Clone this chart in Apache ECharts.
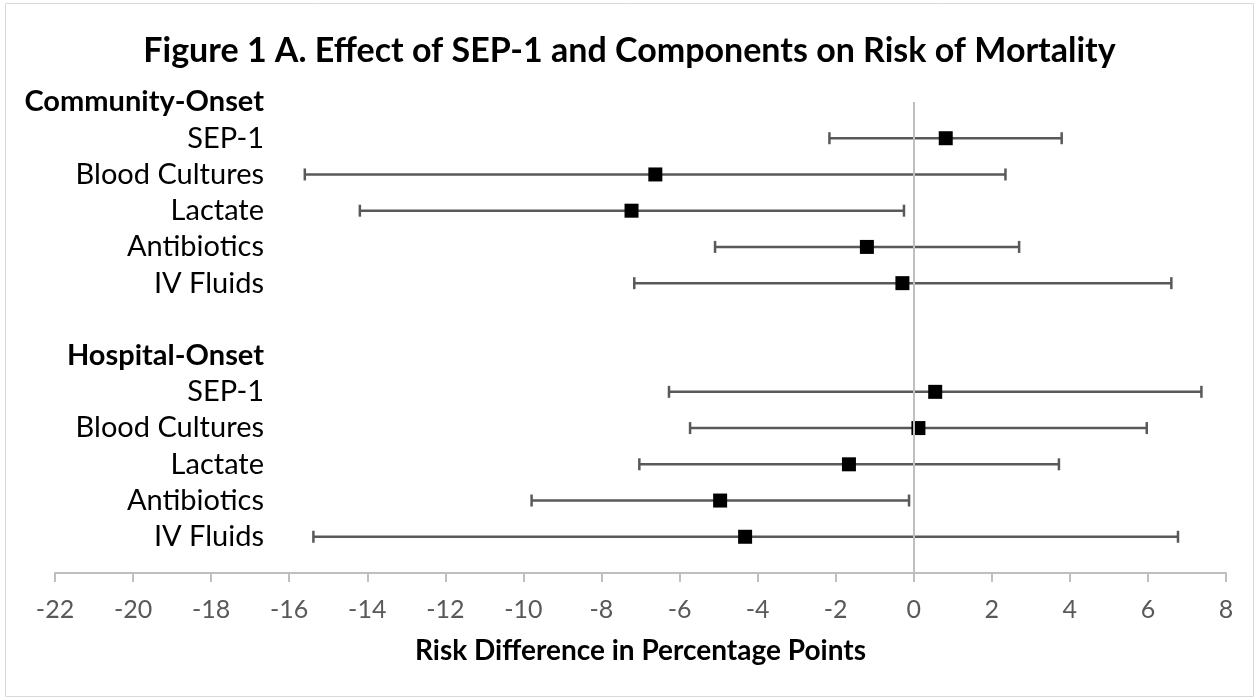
<!DOCTYPE html>
<html>
<head>
<meta charset="utf-8">
<script src="https://cdn.jsdelivr.net/npm/echarts@6/dist/echarts.min.js"></script>
<style>html,body{margin:0;padding:0;background:#fff;}#chart{width:1259px;height:700px;}</style>
</head>
<body>
<div id="chart"></div>
<script>
const rowLabels = ['Community-Onset','SEP-1','Blood Cultures','Lactate','Antibiotics','IV Fluids','','Hospital-Onset','SEP-1','Blood Cultures','Lactate','Antibiotics','IV Fluids'];
const headerRows = [0, 7];
const estimate = [null, 0.82, -6.62, -7.23, -1.20, -0.29, null, null, 0.55, 0.12, -1.66, -4.96, -4.32];
const lower    = [null, -2.16, -15.60, -14.19, -5.09, -7.16, null, null, -6.27, -5.73, -7.03, -9.79, -15.38];
const upper    = [null, 3.79, 2.35, -0.25, 2.70, 6.60, null, null, 7.37, 5.97, 3.72, -0.12, 6.77];
const xMin = -22, xMax = 8, xStep = 2;

const FONT = 'Lato';
const pointData = [], barData = [];
rowLabels.forEach((l, i) => {
  if (estimate[i] !== null) pointData.push([estimate[i], i]);
  if (lower[i] !== null) barData.push([i, lower[i], upper[i]]);
});

const chart = echarts.init(document.getElementById('chart'));
chart.setOption({
  animation: false,
  backgroundColor: '#fff',
  title: {
    text: 'Figure 1 A. Effect of SEP-1 and Components on Risk of Mortality',
    left: 'center', top: 29,
    textStyle: { fontFamily: FONT, fontSize: 34, fontWeight: 'bold', color: '#000' }
  },
  graphic: [{
    type: 'rect', shape: { x: 5.5, y: 3.5, width: 1248, height: 693 },
    style: { fill: 'none', stroke: '#d9d9d9', lineWidth: 1 }, silent: true
  }],
  grid: { left: 55, right: 33, top: 102, bottom: 127 },
  xAxis: {
    type: 'value', min: xMin, max: xMax, interval: xStep,
    name: 'Risk Difference in Percentage Points',
    nameLocation: 'middle', nameGap: 64,
    nameTextStyle: { fontFamily: FONT, fontSize: 28, fontWeight: 'bold', color: '#000' },
    axisLine: { show: true, onZero: false, lineStyle: { color: '#bfbfbf', width: 2 } },
    axisTick: { show: true, length: 9, lineStyle: { color: '#bfbfbf', width: 2 } },
    axisLabel: { fontFamily: FONT, fontSize: 25, color: '#595959', margin: 24 },
    splitLine: { show: false }
  },
  yAxis: {
    type: 'value', inverse: true, min: 0, max: 13, interval: 1,
    axisLine: { show: false }, axisTick: { show: false }, splitLine: { show: false },
    axisLabel: {
      margin: -209, align: 'right',
      fontFamily: FONT, fontSize: 29, color: '#000',
      formatter: v => {
        const t = rowLabels[v] || '';
        return headerRows.includes(v) ? '{h|' + t + '}' : t;
      },
      rich: { h: { fontFamily: FONT, fontSize: 29, fontWeight: 'bold', color: '#000' } }
    }
  },
  series: [
    {
      type: 'custom',
      data: barData,
      encode: { x: [1, 2], y: 0 },
      renderItem: (params, api) => {
        const y = api.value(0);
        const a = api.coord([api.value(1), y]);
        const b = api.coord([api.value(2), y]);
        const s = { stroke: '#595959', lineWidth: 2.5 };
        const c = 6;
        return {
          type: 'group',
          children: [
            { type: 'line', shape: { x1: a[0], y1: a[1], x2: b[0], y2: b[1] }, style: s },
            { type: 'line', shape: { x1: a[0], y1: a[1] - c, x2: a[0], y2: a[1] + c }, style: s },
            { type: 'line', shape: { x1: b[0], y1: b[1] - c, x2: b[0], y2: b[1] + c }, style: s }
          ]
        };
      },
      z: 2
    },
    {
      type: 'scatter',
      data: pointData,
      symbol: 'rect', symbolSize: 14,
      itemStyle: { color: '#000', opacity: 1 },
      z: 3,
      markLine: {
        silent: true, symbol: 'none', label: { show: false },
        lineStyle: { color: '#bfbfbf', width: 2, type: 'solid' },
        data: [{ xAxis: 0 }]
      }
    }
  ]
});
</script>
</body>
</html>
